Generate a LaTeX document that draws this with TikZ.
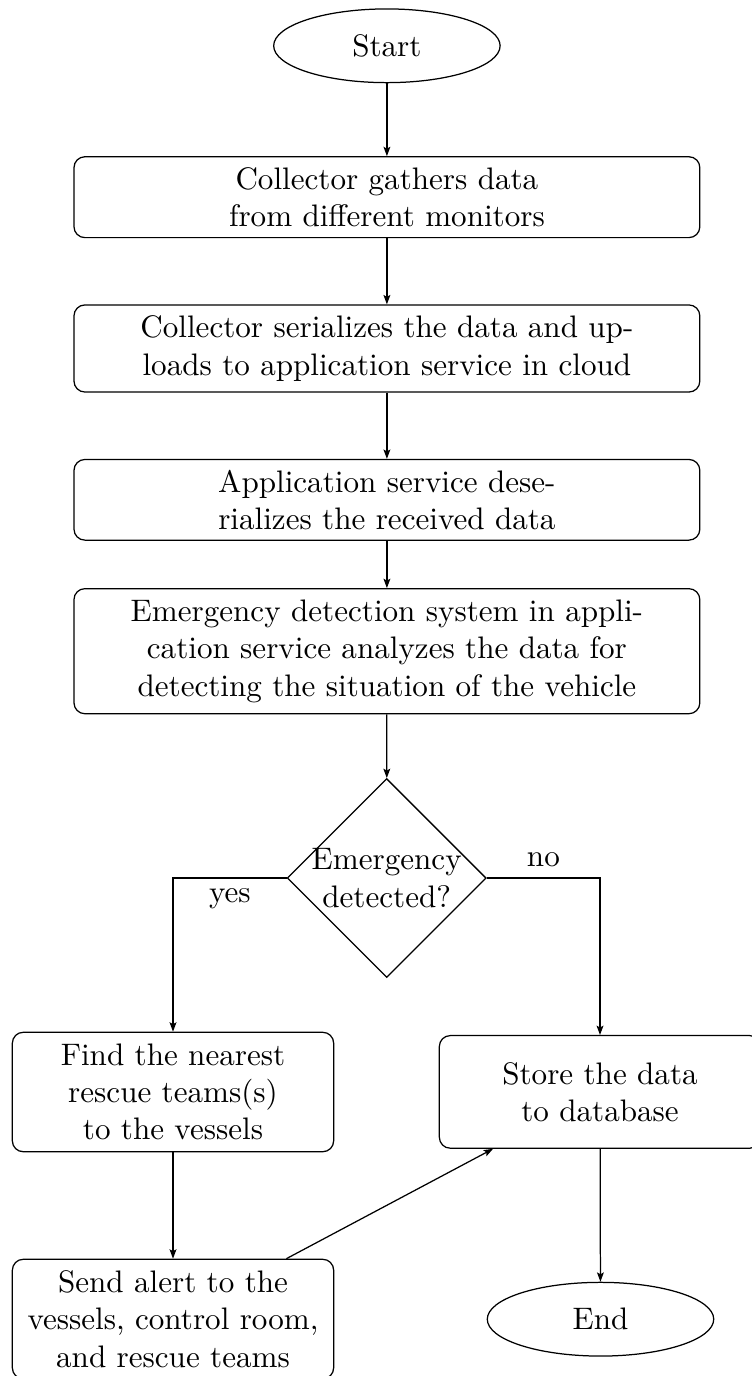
\documentclass[tikz,border=0pt]{standalone}
\usetikzlibrary{shapes.geometric,arrows.meta}
\begin{document}
\begin{tikzpicture}[x=0.3215pt,y=-0.3215pt,
  >={Stealth[length=3pt,width=2.2pt,inset=0.6pt]},
  terminal/.style={draw, ellipse, minimum width=72.8pt, minimum height=23.7pt, inner sep=0pt},
  stepbox/.style={draw, rectangle, rounded corners=3.5pt, align=center},
  wide/.style={stepbox, minimum width=201.2pt},
  narrow/.style={stepbox, minimum width=103.3pt},
  decision/.style={draw, diamond, aspect=1, align=center, inner sep=-0.8pt},
  flow/.style={->}]
\useasboundingbox (0,0) rectangle (751,1376);

% main column
\node[terminal] (start) at (386.9,45.8) {Start};
\node[wide, minimum height=26.0pt] (gather) at (386.9,197.2)
  {Collector gathers data\\from different monitors};
\node[wide, minimum height=28.0pt] (upload) at (386.9,348.5)
  {Collector serializes the data and up-\\loads to application service in cloud};
\node[wide, minimum height=25.9pt] (deser) at (386.9,499.8)
  {Application service dese-\\rializes the received data};
\node[wide, minimum height=40.2pt] (detect) at (386.9,651.2)
  {Emergency detection system in appli-\\cation service analyzes the data for\\detecting the situation of the vehicle};
\node[decision] (dec) at (386.7,878) {Emergency\\detected?};

% branches
\node[narrow, minimum height=38.4pt] (find) at (173,1092)
  {Find the nearest\\rescue teams(s)\\to the vessels};
\node[narrow, minimum height=38.4pt] (alert) at (173,1319)
  {Send alert to the\\vessels, control room,\\and rescue teams};
\node[narrow, minimum height=36.2pt] (store) at (600,1091.9)
  {Store the data\\to database};
\node[terminal] (end) at (600.5,1319.2) {End};

% connectors
\draw[flow] (start) -- (gather);
\draw[flow] (gather) -- (upload);
\draw[flow] (upload) -- (deser);
\draw[flow] (deser) -- (detect);
\draw[flow] (detect) -- (dec);
\draw[flow] (dec.west) -| node[below, pos=0.25] (yes) {yes} (find);
\draw[flow] (dec.east) -| node[above, pos=0.25] (no) {no} (store);
\draw[flow] (find) -- (alert);
\draw[flow] (alert) -- (store);
\draw[flow] (store) -- (end);
\end{tikzpicture}
\end{document}
